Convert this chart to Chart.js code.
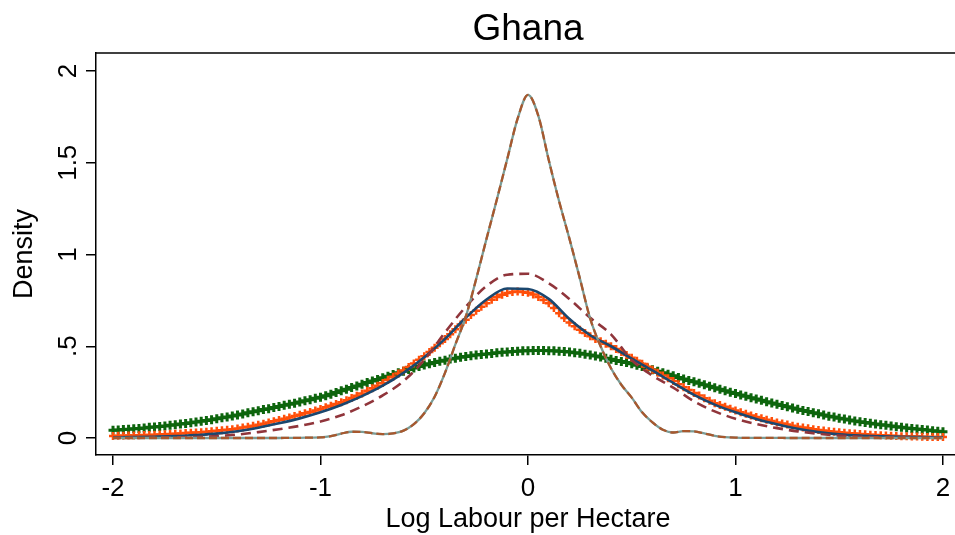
<!DOCTYPE html>
<html>
<head>
<meta charset="utf-8">
<script src="https://cdn.jsdelivr.net/npm/chart.js@4.4.1/dist/chart.umd.min.js"></script>
<style>
html,body{margin:0;padding:0;background:#ffffff;}
canvas{display:block;}
</style>
</head>
<body>
<canvas id="c" width="955" height="535"></canvas>
<script>
// ---------- data ----------
const chartTitle = 'Ghana';
const xAxisTitle = 'Log Labour per Hectare';
const yAxisTitle = 'Density';
const xTickValues = [-2, -1, 0, 1, 2];
const yTickValues = [0, 0.5, 1, 1.5, 2];
const yTickLabels = ['0', '.5', '1', '1.5', '2'];

// evaluation grids (log labour per hectare)
function grid(start, step, n) { return Array.from({length: n}, (_, i) => +(start + i * step).toFixed(3)); }
const xFine = grid(-2, 0.025, 161);   // marker series
const xMid = grid(-2, 0.05, 81);      // peaked series
const xCoarse = grid(-2, 0.1, 41);    // smooth line series

// green crosses
const greenDensity = [
0.042,0.044,0.046,0.048,0.050,0.052,0.055,0.058,0.060,0.063,
0.066,0.069,0.072,0.076,0.079,0.083,0.087,0.091,0.096,0.100,
0.105,0.110,0.115,0.120,0.126,0.131,0.137,0.143,0.149,0.155,
0.160,0.166,0.172,0.178,0.184,0.190,0.196,0.203,0.209,0.216,
0.222,0.230,0.239,0.248,0.257,0.266,0.275,0.284,0.293,0.302,
0.310,0.319,0.328,0.337,0.346,0.355,0.364,0.373,0.381,0.390,
0.398,0.405,0.412,0.418,0.424,0.430,0.435,0.440,0.444,0.448,
0.452,0.455,0.458,0.461,0.464,0.467,0.469,0.471,0.473,0.475,
0.476,0.477,0.477,0.477,0.476,0.475,0.473,0.471,0.468,0.465,
0.462,0.457,0.452,0.447,0.441,0.435,0.429,0.423,0.417,0.411,
0.405,0.397,0.389,0.381,0.372,0.364,0.355,0.347,0.339,0.330,
0.322,0.314,0.306,0.298,0.290,0.282,0.274,0.266,0.258,0.250,
0.243,0.235,0.228,0.220,0.213,0.206,0.198,0.191,0.184,0.177,
0.170,0.163,0.157,0.150,0.144,0.138,0.132,0.125,0.119,0.114,
0.108,0.103,0.098,0.093,0.089,0.084,0.080,0.076,0.072,0.069,
0.066,0.062,0.059,0.055,0.052,0.049,0.046,0.043,0.040,0.037,
0.034];

// orange crosses
const orangeDensity = [
0.011,0.012,0.012,0.013, 0.014,0.015,0.016,0.017, 0.018,0.019,0.020,0.022, 0.023,0.025,0.027,0.028,
0.030,0.032,0.034,0.037, 0.039,0.042,0.045,0.048, 0.052,0.057,0.062,0.067, 0.072,0.078,0.085,0.091,
0.098,0.105,0.112,0.120, 0.127,0.135,0.142,0.150, 0.158,0.167,0.176,0.185, 0.195,0.206,0.218,0.230,
0.243,0.257,0.271,0.285, 0.300,0.317,0.334,0.351, 0.368,0.387,0.406,0.426, 0.445,0.468,0.492,0.516,
0.540,0.566,0.593,0.619, 0.645,0.670,0.693,0.715, 0.735,0.753,0.768,0.780, 0.790,0.796,0.798,0.796,
0.792,0.782,0.768,0.752, 0.735,0.708,0.680,0.654, 0.630,0.609,0.590,0.572, 0.555,0.540,0.527,0.514,
0.500,0.485,0.469,0.453, 0.437,0.421,0.404,0.388, 0.372,0.356,0.341,0.325, 0.310,0.293,0.277,0.261,
0.245,0.231,0.217,0.203, 0.190,0.180,0.170,0.160, 0.150,0.141,0.132,0.123, 0.115,0.107,0.099,0.092,
0.085,0.079,0.073,0.067, 0.062,0.057,0.053,0.048, 0.044,0.041,0.037,0.034, 0.031,0.029,0.026,0.024,
0.022,0.020,0.018,0.016, 0.015,0.014,0.012,0.011, 0.010,0.009,0.008,0.008, 0.007,0.006,0.006,0.005,
0.005];

// navy solid line
const navyDensity = [
0.004,0.005,0.007,0.010,0.016,0.024,0.037,0.056,0.080,0.107,
0.140,0.180,0.228,0.285,0.355,0.440,0.540,0.655,0.755,0.815,
0.812,0.758,0.648,0.560,0.500,0.432,0.368,0.300,0.235,0.182,
0.140,0.104,0.075,0.050,0.032,0.020,0.013,0.009,0.006,0.005,
0.004];

// maroon dashed line
const maroonDensity = [
0.001,0.001,0.002,0.003,0.005,0.010,0.019,0.032,0.048,0.066,
0.090,0.124,0.172,0.232,0.310,0.425,0.575,0.715,0.828,0.890,
0.895,0.843,0.757,0.655,0.565,0.425,0.340,0.275,0.200,0.145,
0.105,0.076,0.054,0.036,0.023,0.013,0.007,0.004,0.002,0.001,
0.001];

// sharply peaked line (teal solid with sienna dashes)
const peakDensity = [
0,0,0,0,0,0,0,0,0,0,0,0,0,0,0,0,
0.000,0.001,0.001,0.002,0.003,
0.010,0.024,0.034,0.033,0.026,
0.021,0.025,0.040,0.075,0.135,
0.225,0.355,0.510,0.660,0.865,
1.085,1.300,1.520,1.740,1.870,
1.755,1.515,1.290,1.085,0.870,
0.650,0.500,0.380,0.290,0.220,
0.140,0.085,0.045,0.030,0.038,
0.036,0.025,0.012,0.005,0.002,
0.001,0.001,0.001,0.001,0,0,0,0,0,0,0,0,0,0,0,0,0,0,0,0];

function pairs(xs, ys) { return xs.map((x, i) => ({x: x, y: ys[i]})); }

// ---------- styling ----------
const FONT = "'Liberation Sans', Arial, Helvetica, sans-serif";

const framePlugin = {
  id: 'frame',
  afterDraw(chart) {
    const ctx = chart.ctx;
    const a = chart.chartArea;
    const xs = chart.scales.x;
    const ys = chart.scales.y;
    const cx = xs.getPixelForValue(0);
    ctx.save();
    // top frame line
    ctx.strokeStyle = '#000';
    ctx.lineWidth = 1.5;
    ctx.beginPath();
    ctx.moveTo(a.left, a.top);
    ctx.lineTo(chart.width, a.top);
    ctx.stroke();
    ctx.fillStyle = '#000';
    ctx.textAlign = 'center';
    ctx.textBaseline = 'alphabetic';
    // title
    ctx.font = '37px ' + FONT;
    ctx.fillText(chartTitle, cx, 40);
    // x axis title
    ctx.font = '27px ' + FONT;
    ctx.fillText(xAxisTitle, cx, 527);
    // rotated y tick labels
    ctx.font = '26px ' + FONT;
    yTickValues.forEach((v, i) => {
      const py = ys.getPixelForValue(v);
      ctx.save();
      ctx.translate(76, py);
      ctx.rotate(-Math.PI / 2);
      ctx.fillText(yTickLabels[i], 0, 0);
      ctx.restore();
    });
    ctx.restore();
  }
};

const lineBase = {showLine: true, pointRadius: 0, fill: false, cubicInterpolationMode: 'monotone'};

new Chart(document.getElementById('c'), {
  type: 'scatter',
  data: {
    datasets: [
      Object.assign({}, lineBase, {label: 'peak dashed', data: pairs(xMid, peakDensity), borderColor: '#a8582e', borderWidth: 2.3, borderDash: [8, 4]}),
      Object.assign({}, lineBase, {label: 'peak solid', data: pairs(xMid, peakDensity), borderColor: '#7a9c96', borderWidth: 2.3}),
      Object.assign({}, lineBase, {label: 'maroon', data: pairs(xCoarse, maroonDensity), borderColor: '#90353b', borderWidth: 2.6, borderDash: [10, 6]}),
      Object.assign({}, lineBase, {label: 'navy', data: pairs(xCoarse, navyDensity), borderColor: '#1a476f', borderWidth: 2.6}),
      {label: 'orange', data: pairs(xFine, orangeDensity), showLine: false, pointStyle: 'cross', pointRadius: 4, pointBorderWidth: 2.5, borderColor: '#ff4f0a', backgroundColor: '#ff4f0a'},
      {label: 'green', data: pairs(xFine, greenDensity), showLine: false, pointStyle: 'cross', pointRadius: 4.5, pointBorderWidth: 3, borderColor: '#0d650d', backgroundColor: '#0d650d'}
    ]
  },
  options: {
    responsive: false,
    animation: false,
    events: [],
    layout: {autoPadding: false, padding: {top: 53, right: 0, bottom: 0, left: 0}},
    plugins: {legend: {display: false}, tooltip: {enabled: false}, title: {display: false}},
    scales: {
      x: {
        type: 'linear',
        min: -2.082,
        max: 2.058,
        afterBuildTicks: s => { s.ticks = xTickValues.map(v => ({value: v})); },
        afterFit: s => { s.height = 80; s.paddingLeft = 0; s.paddingRight = 0; },
        grid: {drawOnChartArea: false, drawTicks: true, tickLength: 10, color: '#000', lineWidth: 1.5},
        border: {display: true, color: '#000', width: 1.5},
        ticks: {color: '#000', font: {family: FONT, size: 26}, padding: 8, maxRotation: 0, autoSkip: false, callback: v => String(v)},
        title: {display: false}
      },
      y: {
        type: 'linear',
        min: -0.0926,
        max: 2.098,
        afterBuildTicks: s => { s.ticks = yTickValues.map(v => ({value: v})); },
        afterFit: s => { s.width = 96; s.paddingTop = 0; s.paddingBottom = 0; },
        grid: {drawOnChartArea: false, drawTicks: true, tickLength: 10, color: '#000', lineWidth: 1.5},
        border: {display: true, color: '#000', width: 1.5},
        ticks: {display: false},
        title: {display: true, text: yAxisTitle, color: '#000', font: {family: FONT, size: 27}, padding: {top: 8, bottom: 0}}
      }
    }
  },
  plugins: [framePlugin]
});
</script>
</body>
</html>
